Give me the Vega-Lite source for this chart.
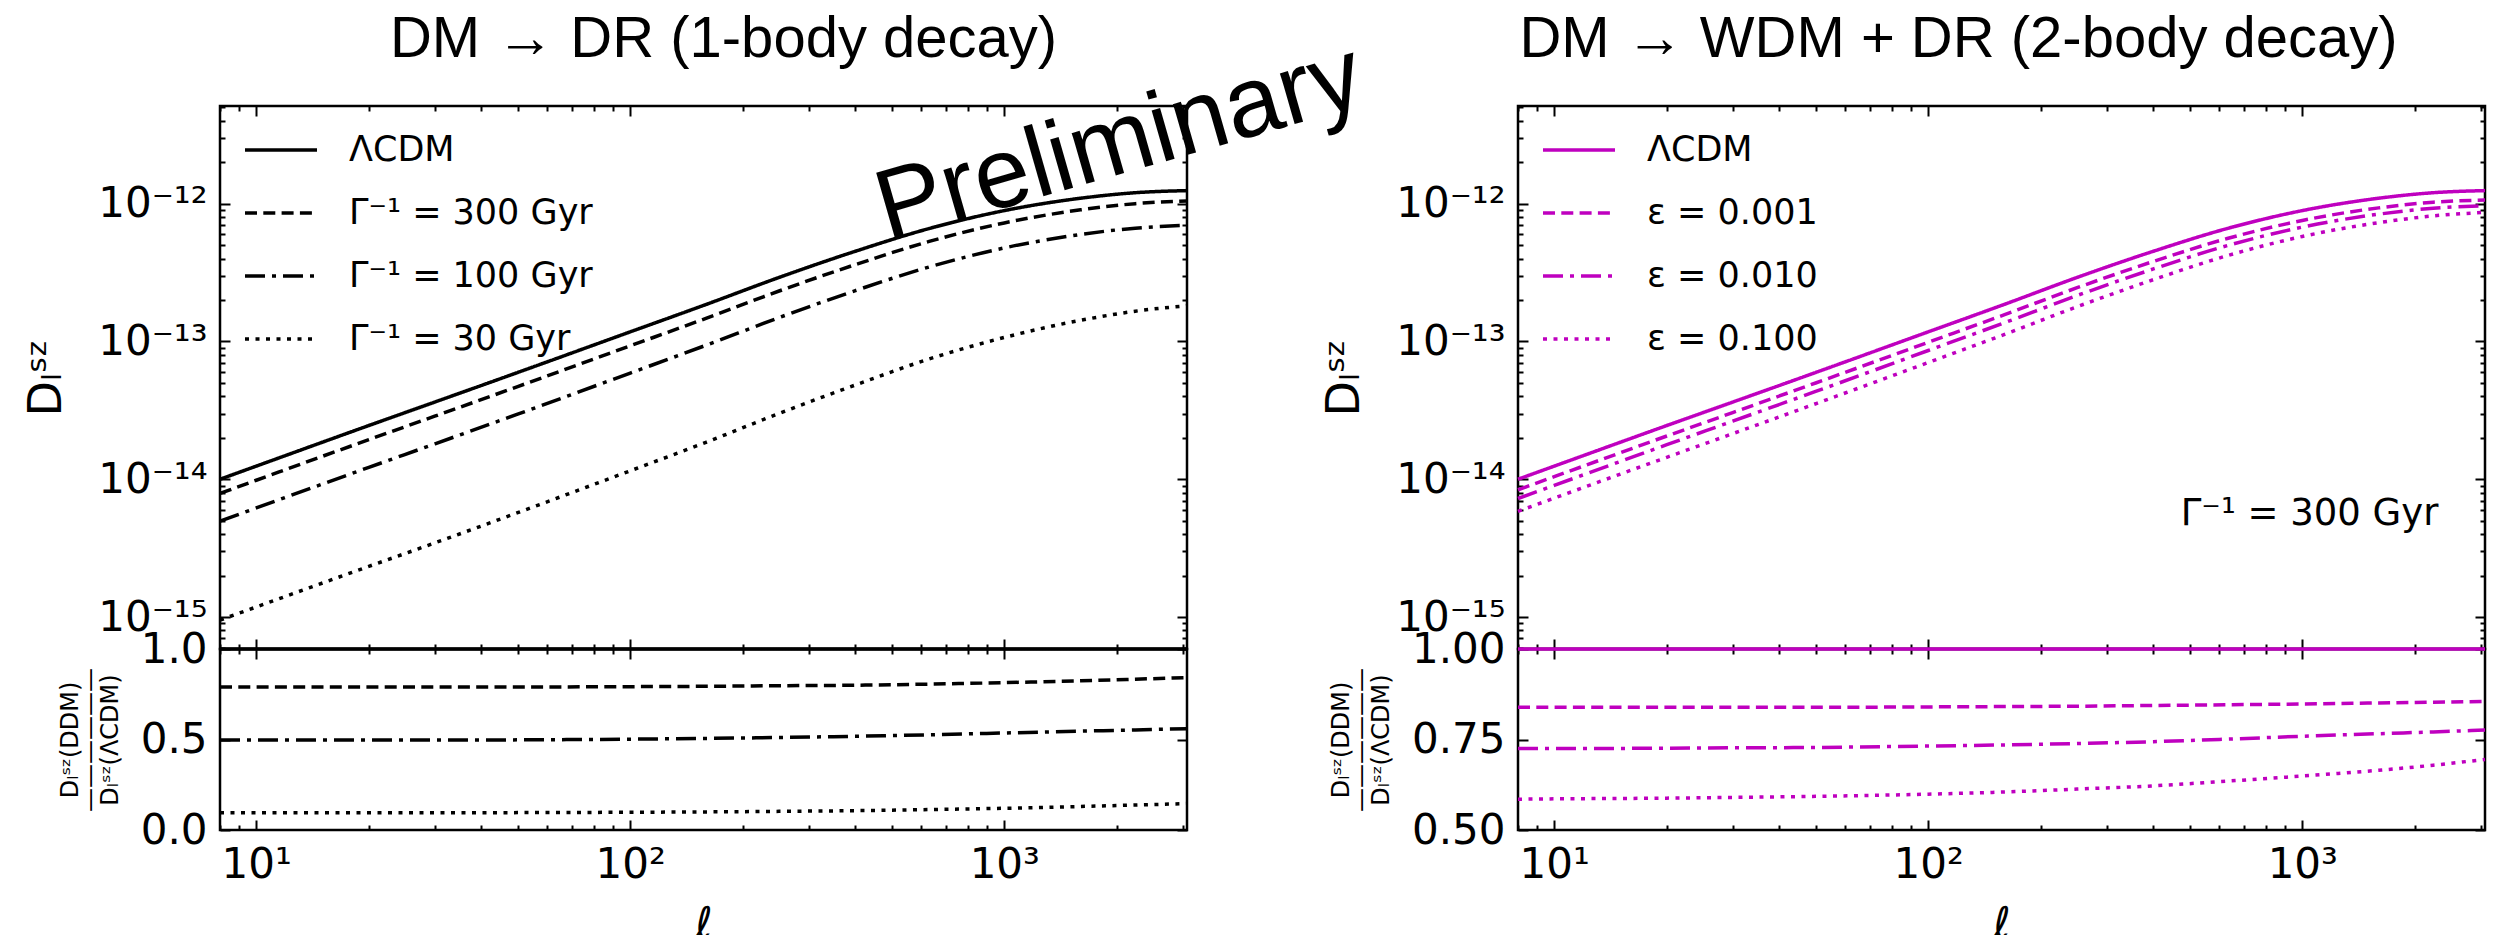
{
  "$schema": "https://vega.github.io/schema/vega-lite/v6.json",
  "background": "white",
  "padding": {"left": 22, "top": 10, "right": 0, "bottom": 0},
  "config": {
    "font": "DejaVu Sans",
    "view": {"stroke": "black", "strokeWidth": 2.5},
    "axis": {"domain": false, "grid": false, "labelFont": "DejaVu Sans", "labelFontSize": 42, "labelColor": "black", "tickColor": "black", "tickWidth": 2, "labelOverlap": false, "labelFlush": false, "labelBound": false, "titleFont": "DejaVu Sans", "titleFontWeight": "normal", "titleColor": "black"},
    "legend": {"labelFont": "DejaVu Sans", "labelColor": "black"}
  },
  "datasets": {
    "left": [
      {"model": "ΛCDM", "l": 8, "D": 1.000e-14, "ratio": 1},
      {"model": "ΛCDM", "l": 10, "D": 1.245e-14, "ratio": 1},
      {"model": "ΛCDM", "l": 20, "D": 2.455e-14, "ratio": 1},
      {"model": "ΛCDM", "l": 30, "D": 3.631e-14, "ratio": 1},
      {"model": "ΛCDM", "l": 50, "D": 5.957e-14, "ratio": 1},
      {"model": "ΛCDM", "l": 100, "D": 1.175e-13, "ratio": 1},
      {"model": "ΛCDM", "l": 160, "D": 1.862e-13, "ratio": 1},
      {"model": "ΛCDM", "l": 250, "D": 2.917e-13, "ratio": 1},
      {"model": "ΛCDM", "l": 400, "D": 4.519e-13, "ratio": 1},
      {"model": "ΛCDM", "l": 630, "D": 6.607e-13, "ratio": 1},
      {"model": "ΛCDM", "l": 1000, "D": 8.913e-13, "ratio": 1},
      {"model": "ΛCDM", "l": 1600, "D": 1.096e-12, "ratio": 1},
      {"model": "ΛCDM", "l": 2240, "D": 1.202e-12, "ratio": 1},
      {"model": "ΛCDM", "l": 3080, "D": 1.245e-12, "ratio": 1},
      {"model": "Γ⁻¹ = 300 Gyr", "l": 8, "D": 7.90e-15, "ratio": 0.79},
      {"model": "Γ⁻¹ = 300 Gyr", "l": 10, "D": 9.836e-15, "ratio": 0.79},
      {"model": "Γ⁻¹ = 300 Gyr", "l": 20, "D": 1.939e-14, "ratio": 0.79},
      {"model": "Γ⁻¹ = 300 Gyr", "l": 30, "D": 2.868e-14, "ratio": 0.79},
      {"model": "Γ⁻¹ = 300 Gyr", "l": 50, "D": 4.706e-14, "ratio": 0.79},
      {"model": "Γ⁻¹ = 300 Gyr", "l": 100, "D": 9.306e-14, "ratio": 0.792},
      {"model": "Γ⁻¹ = 300 Gyr", "l": 160, "D": 1.478e-13, "ratio": 0.794},
      {"model": "Γ⁻¹ = 300 Gyr", "l": 250, "D": 2.325e-13, "ratio": 0.797},
      {"model": "Γ⁻¹ = 300 Gyr", "l": 400, "D": 3.615e-13, "ratio": 0.8},
      {"model": "Γ⁻¹ = 300 Gyr", "l": 630, "D": 5.325e-13, "ratio": 0.806},
      {"model": "Γ⁻¹ = 300 Gyr", "l": 1000, "D": 7.255e-13, "ratio": 0.814},
      {"model": "Γ⁻¹ = 300 Gyr", "l": 1600, "D": 9.031e-13, "ratio": 0.824},
      {"model": "Γ⁻¹ = 300 Gyr", "l": 2240, "D": 1.001e-12, "ratio": 0.833},
      {"model": "Γ⁻¹ = 300 Gyr", "l": 3080, "D": 1.048e-12, "ratio": 0.842},
      {"model": "Γ⁻¹ = 100 Gyr", "l": 8, "D": 4.97e-15, "ratio": 0.497},
      {"model": "Γ⁻¹ = 100 Gyr", "l": 10, "D": 6.188e-15, "ratio": 0.497},
      {"model": "Γ⁻¹ = 100 Gyr", "l": 20, "D": 1.220e-14, "ratio": 0.497},
      {"model": "Γ⁻¹ = 100 Gyr", "l": 30, "D": 1.805e-14, "ratio": 0.497},
      {"model": "Γ⁻¹ = 100 Gyr", "l": 50, "D": 2.967e-14, "ratio": 0.498},
      {"model": "Γ⁻¹ = 100 Gyr", "l": 100, "D": 5.899e-14, "ratio": 0.502},
      {"model": "Γ⁻¹ = 100 Gyr", "l": 160, "D": 9.422e-14, "ratio": 0.506},
      {"model": "Γ⁻¹ = 100 Gyr", "l": 250, "D": 1.491e-13, "ratio": 0.511},
      {"model": "Γ⁻¹ = 100 Gyr", "l": 400, "D": 2.341e-13, "ratio": 0.518},
      {"model": "Γ⁻¹ = 100 Gyr", "l": 630, "D": 3.475e-13, "ratio": 0.526},
      {"model": "Γ⁻¹ = 100 Gyr", "l": 1000, "D": 4.777e-13, "ratio": 0.536},
      {"model": "Γ⁻¹ = 100 Gyr", "l": 1600, "D": 5.984e-13, "ratio": 0.546},
      {"model": "Γ⁻¹ = 100 Gyr", "l": 2240, "D": 6.647e-13, "ratio": 0.553},
      {"model": "Γ⁻¹ = 100 Gyr", "l": 3080, "D": 6.972e-13, "ratio": 0.56},
      {"model": "Γ⁻¹ = 30 Gyr", "l": 8, "D": 9.50e-16, "ratio": 0.095},
      {"model": "Γ⁻¹ = 30 Gyr", "l": 10, "D": 1.183e-15, "ratio": 0.095},
      {"model": "Γ⁻¹ = 30 Gyr", "l": 20, "D": 2.332e-15, "ratio": 0.095},
      {"model": "Γ⁻¹ = 30 Gyr", "l": 30, "D": 3.449e-15, "ratio": 0.095},
      {"model": "Γ⁻¹ = 30 Gyr", "l": 50, "D": 5.719e-15, "ratio": 0.096},
      {"model": "Γ⁻¹ = 30 Gyr", "l": 100, "D": 1.152e-14, "ratio": 0.098},
      {"model": "Γ⁻¹ = 30 Gyr", "l": 160, "D": 1.862e-14, "ratio": 0.1},
      {"model": "Γ⁻¹ = 30 Gyr", "l": 250, "D": 3.005e-14, "ratio": 0.103},
      {"model": "Γ⁻¹ = 30 Gyr", "l": 400, "D": 4.835e-14, "ratio": 0.107},
      {"model": "Γ⁻¹ = 30 Gyr", "l": 630, "D": 7.466e-14, "ratio": 0.113},
      {"model": "Γ⁻¹ = 30 Gyr", "l": 1000, "D": 1.070e-13, "ratio": 0.12},
      {"model": "Γ⁻¹ = 30 Gyr", "l": 1600, "D": 1.425e-13, "ratio": 0.13},
      {"model": "Γ⁻¹ = 30 Gyr", "l": 2240, "D": 1.659e-13, "ratio": 0.138},
      {"model": "Γ⁻¹ = 30 Gyr", "l": 3080, "D": 1.818e-13, "ratio": 0.146}
    ],
    "right": [
      {"model": "ΛCDM", "l": 8, "D": 1.000e-14, "ratio": 1},
      {"model": "ΛCDM", "l": 10, "D": 1.245e-14, "ratio": 1},
      {"model": "ΛCDM", "l": 20, "D": 2.455e-14, "ratio": 1},
      {"model": "ΛCDM", "l": 30, "D": 3.631e-14, "ratio": 1},
      {"model": "ΛCDM", "l": 50, "D": 5.957e-14, "ratio": 1},
      {"model": "ΛCDM", "l": 100, "D": 1.175e-13, "ratio": 1},
      {"model": "ΛCDM", "l": 160, "D": 1.862e-13, "ratio": 1},
      {"model": "ΛCDM", "l": 250, "D": 2.917e-13, "ratio": 1},
      {"model": "ΛCDM", "l": 400, "D": 4.519e-13, "ratio": 1},
      {"model": "ΛCDM", "l": 630, "D": 6.607e-13, "ratio": 1},
      {"model": "ΛCDM", "l": 1000, "D": 8.913e-13, "ratio": 1},
      {"model": "ΛCDM", "l": 1600, "D": 1.096e-12, "ratio": 1},
      {"model": "ΛCDM", "l": 2240, "D": 1.202e-12, "ratio": 1},
      {"model": "ΛCDM", "l": 3080, "D": 1.245e-12, "ratio": 1},
      {"model": "ε = 0.001", "l": 8, "D": 8.39e-15, "ratio": 0.839},
      {"model": "ε = 0.001", "l": 10, "D": 1.0446e-14, "ratio": 0.839},
      {"model": "ε = 0.001", "l": 20, "D": 2.060e-14, "ratio": 0.839},
      {"model": "ε = 0.001", "l": 30, "D": 3.046e-14, "ratio": 0.839},
      {"model": "ε = 0.001", "l": 50, "D": 4.998e-14, "ratio": 0.839},
      {"model": "ε = 0.001", "l": 100, "D": 9.870e-14, "ratio": 0.84},
      {"model": "ε = 0.001", "l": 160, "D": 1.566e-13, "ratio": 0.841},
      {"model": "ε = 0.001", "l": 250, "D": 2.456e-13, "ratio": 0.842},
      {"model": "ε = 0.001", "l": 400, "D": 3.814e-13, "ratio": 0.844},
      {"model": "ε = 0.001", "l": 630, "D": 5.590e-13, "ratio": 0.846},
      {"model": "ε = 0.001", "l": 1000, "D": 7.558e-13, "ratio": 0.848},
      {"model": "ε = 0.001", "l": 1600, "D": 9.327e-13, "ratio": 0.851},
      {"model": "ε = 0.001", "l": 2240, "D": 1.0253e-12, "ratio": 0.853},
      {"model": "ε = 0.001", "l": 3080, "D": 1.0645e-12, "ratio": 0.855},
      {"model": "ε = 0.010", "l": 8, "D": 7.25e-15, "ratio": 0.725},
      {"model": "ε = 0.010", "l": 10, "D": 9.026e-15, "ratio": 0.725},
      {"model": "ε = 0.010", "l": 20, "D": 1.782e-14, "ratio": 0.726},
      {"model": "ε = 0.010", "l": 30, "D": 2.640e-14, "ratio": 0.727},
      {"model": "ε = 0.010", "l": 50, "D": 4.337e-14, "ratio": 0.728},
      {"model": "ε = 0.010", "l": 100, "D": 8.601e-14, "ratio": 0.732},
      {"model": "ε = 0.010", "l": 160, "D": 1.369e-13, "ratio": 0.735},
      {"model": "ε = 0.010", "l": 250, "D": 2.156e-13, "ratio": 0.739},
      {"model": "ε = 0.010", "l": 400, "D": 3.362e-13, "ratio": 0.744},
      {"model": "ε = 0.010", "l": 630, "D": 4.962e-13, "ratio": 0.751},
      {"model": "ε = 0.010", "l": 1000, "D": 6.765e-13, "ratio": 0.759},
      {"model": "ε = 0.010", "l": 1600, "D": 8.395e-13, "ratio": 0.766},
      {"model": "ε = 0.010", "l": 2240, "D": 9.267e-13, "ratio": 0.771},
      {"model": "ε = 0.010", "l": 3080, "D": 9.661e-13, "ratio": 0.776},
      {"model": "ε = 0.100", "l": 8, "D": 5.85e-15, "ratio": 0.585},
      {"model": "ε = 0.100", "l": 10, "D": 7.296e-15, "ratio": 0.586},
      {"model": "ε = 0.100", "l": 20, "D": 1.4435e-14, "ratio": 0.588},
      {"model": "ε = 0.100", "l": 30, "D": 2.142e-14, "ratio": 0.59},
      {"model": "ε = 0.100", "l": 50, "D": 3.533e-14, "ratio": 0.593},
      {"model": "ε = 0.100", "l": 100, "D": 7.038e-14, "ratio": 0.599},
      {"model": "ε = 0.100", "l": 160, "D": 1.1265e-13, "ratio": 0.605},
      {"model": "ε = 0.100", "l": 250, "D": 1.788e-13, "ratio": 0.613},
      {"model": "ε = 0.100", "l": 400, "D": 2.811e-13, "ratio": 0.622},
      {"model": "ε = 0.100", "l": 630, "D": 4.195e-13, "ratio": 0.635},
      {"model": "ε = 0.100", "l": 1000, "D": 5.785e-13, "ratio": 0.649},
      {"model": "ε = 0.100", "l": 1600, "D": 7.288e-13, "ratio": 0.665},
      {"model": "ε = 0.100", "l": 2240, "D": 8.162e-13, "ratio": 0.679},
      {"model": "ε = 0.100", "l": 3080, "D": 8.653e-13, "ratio": 0.695}
    ]
  },
  "concat": [
    {
      "width": 967, "height": 543,
      "title": {"text": "DM → DR (1-body decay)", "font": "Liberation Sans", "fontSize": 58, "fontWeight": "normal", "color": "black", "anchor": "middle", "frame": "group", "offset": 17, "dx": 20},
      "layer": [
        {
          "data": {"name": "left"},
          "mark": {"type": "line", "color": "black", "strokeWidth": 3.5, "interpolate": "monotone"},
          "encoding": {
            "x": {"field": "l", "type": "quantitative", "scale": {"type": "log", "domain": [8, 3080], "nice": false},
              "axis": {"orient": "bottom", "values": [8,9,10,20,30,40,50,60,70,80,90,100,200,300,400,500,600,700,800,900,1000,2000,3000], "labels": false, "title": null,
                "tickSize": {"condition": {"test": "datum.value == 10 || datum.value == 100 || datum.value == 1000", "value": -10}, "value": -5}}},
            "y": {"field": "D", "type": "quantitative", "scale": {"type": "log", "domain": [5.86e-16, 5.12e-12], "nice": false},
              "axis": {"orient": "left", "values": [6e-16,7e-16,8e-16,9e-16,1e-15,2e-15,3e-15,4e-15,5e-15,6e-15,7e-15,8e-15,9e-15,1e-14,2e-14,3e-14,4e-14,5e-14,6e-14,7e-14,8e-14,9e-14,1e-13,2e-13,3e-13,4e-13,5e-13,6e-13,7e-13,8e-13,9e-13,1e-12,2e-12,3e-12,4e-12,5e-12],
                "labelExpr": "datum.value == 1e-15 ? '10⁻¹⁵' : datum.value == 1e-14 ? '10⁻¹⁴' : datum.value == 1e-13 ? '10⁻¹³' : datum.value == 1e-12 ? '10⁻¹²' : ''",
                "labelPadding": 23, "title": "Dₗˢᶻ", "titleFontSize": 46, "titlePadding": 27,
                "tickSize": {"condition": {"test": "datum.value == 1e-15 || datum.value == 1e-14 || datum.value == 1e-13 || datum.value == 1e-12", "value": -10}, "value": -5}}},
            "strokeDash": {"field": "model", "type": "nominal",
              "scale": {"domain": ["ΛCDM", "Γ⁻¹ = 300 Gyr", "Γ⁻¹ = 100 Gyr", "Γ⁻¹ = 30 Gyr"], "range": [[1, 0], [12, 6.3], [20, 7, 4, 7], [4, 6.5]]},
              "legend": {"title": null, "orient": "none", "legendX": 23, "legendY": 6, "symbolType": "stroke", "symbolSize": 5184, "symbolStrokeWidth": 3.5, "symbolStrokeColor": "black", "labelFont": "DejaVu Sans", "labelFontSize": 35, "labelColor": "black", "labelOffset": 30, "rowPadding": 7, "padding": 0, "labelLimit": 0}}
          }
        },
        {
          "data": {"name": "left"},
          "mark": {"type": "point", "opacity": 0},
          "encoding": {
            "x": {"field": "l", "type": "quantitative", "axis": {"orient": "top", "values": [8,9,10,20,30,40,50,60,70,80,90,100,200,300,400,500,600,700,800,900,1000,2000,3000], "labels": false, "title": null,
                "tickSize": {"condition": {"test": "datum.value == 10 || datum.value == 100 || datum.value == 1000", "value": -10}, "value": -5}}},
            "y": {"field": "D", "type": "quantitative", "axis": {"orient": "right", "values": [6e-16,7e-16,8e-16,9e-16,1e-15,2e-15,3e-15,4e-15,5e-15,6e-15,7e-15,8e-15,9e-15,1e-14,2e-14,3e-14,4e-14,5e-14,6e-14,7e-14,8e-14,9e-14,1e-13,2e-13,3e-13,4e-13,5e-13,6e-13,7e-13,8e-13,9e-13,1e-12,2e-12,3e-12,4e-12,5e-12], "labels": false, "title": null,
                "tickSize": {"condition": {"test": "datum.value == 1e-15 || datum.value == 1e-14 || datum.value == 1e-13 || datum.value == 1e-12", "value": -10}, "value": -5}}}
          }
        }
      ],
      "resolve": {"axis": {"x": "independent", "y": "independent"}}
    },
    {
      "width": 967, "height": 543,
      "title": {"text": "DM → WDM + DR (2-body decay)", "font": "Liberation Sans", "fontSize": 58, "fontWeight": "normal", "color": "black", "anchor": "middle", "frame": "group", "offset": 17, "dx": -43},
      "layer": [
        {
          "data": {"name": "right"},
          "mark": {"type": "line", "color": "#bf00bf", "strokeWidth": 3.5, "interpolate": "monotone"},
          "encoding": {
            "x": {"field": "l", "type": "quantitative", "scale": {"type": "log", "domain": [8, 3080], "nice": false},
              "axis": {"orient": "bottom", "values": [8,9,10,20,30,40,50,60,70,80,90,100,200,300,400,500,600,700,800,900,1000,2000,3000], "labels": false, "title": null,
                "tickSize": {"condition": {"test": "datum.value == 10 || datum.value == 100 || datum.value == 1000", "value": -10}, "value": -5}}},
            "y": {"field": "D", "type": "quantitative", "scale": {"type": "log", "domain": [5.86e-16, 5.12e-12], "nice": false},
              "axis": {"orient": "left", "values": [6e-16,7e-16,8e-16,9e-16,1e-15,2e-15,3e-15,4e-15,5e-15,6e-15,7e-15,8e-15,9e-15,1e-14,2e-14,3e-14,4e-14,5e-14,6e-14,7e-14,8e-14,9e-14,1e-13,2e-13,3e-13,4e-13,5e-13,6e-13,7e-13,8e-13,9e-13,1e-12,2e-12,3e-12,4e-12,5e-12],
                "labelExpr": "datum.value == 1e-15 ? '10⁻¹⁵' : datum.value == 1e-14 ? '10⁻¹⁴' : datum.value == 1e-13 ? '10⁻¹³' : datum.value == 1e-12 ? '10⁻¹²' : ''",
                "labelPadding": 23, "title": "Dₗˢᶻ", "titleFontSize": 46, "titlePadding": 27,
                "tickSize": {"condition": {"test": "datum.value == 1e-15 || datum.value == 1e-14 || datum.value == 1e-13 || datum.value == 1e-12", "value": -10}, "value": -5}}},
            "strokeDash": {"field": "model", "type": "nominal",
              "scale": {"domain": ["ΛCDM", "ε = 0.001", "ε = 0.010", "ε = 0.100"], "range": [[1, 0], [12, 6.3], [20, 7, 4, 7], [4, 6.5]]},
              "legend": {"title": null, "orient": "none", "legendX": 23, "legendY": 6, "symbolType": "stroke", "symbolSize": 5184, "symbolStrokeWidth": 3.5, "symbolStrokeColor": "#bf00bf", "labelFont": "DejaVu Sans", "labelFontSize": 35, "labelColor": "black", "labelOffset": 30, "rowPadding": 7, "padding": 0, "labelLimit": 0}}
          }
        },
        {
          "data": {"name": "right"},
          "mark": {"type": "point", "opacity": 0},
          "encoding": {
            "x": {"field": "l", "type": "quantitative", "axis": {"orient": "top", "values": [8,9,10,20,30,40,50,60,70,80,90,100,200,300,400,500,600,700,800,900,1000,2000,3000], "labels": false, "title": null,
                "tickSize": {"condition": {"test": "datum.value == 10 || datum.value == 100 || datum.value == 1000", "value": -10}, "value": -5}}},
            "y": {"field": "D", "type": "quantitative", "axis": {"orient": "right", "values": [6e-16,7e-16,8e-16,9e-16,1e-15,2e-15,3e-15,4e-15,5e-15,6e-15,7e-15,8e-15,9e-15,1e-14,2e-14,3e-14,4e-14,5e-14,6e-14,7e-14,8e-14,9e-14,1e-13,2e-13,3e-13,4e-13,5e-13,6e-13,7e-13,8e-13,9e-13,1e-12,2e-12,3e-12,4e-12,5e-12], "labels": false, "title": null,
                "tickSize": {"condition": {"test": "datum.value == 1e-15 || datum.value == 1e-14 || datum.value == 1e-13 || datum.value == 1e-12", "value": -10}, "value": -5}}}
          }
        },
        {
          "data": {"values": [{"label": "Γ⁻¹ = 300 Gyr"}]},
          "mark": {"type": "text", "font": "DejaVu Sans", "fontSize": 37, "align": "right", "baseline": "alphabetic", "color": "black"},
          "encoding": {
            "x": {"datum": 2312, "type": "quantitative", "axis": null},
            "y": {"datum": 4.68e-15, "type": "quantitative", "axis": null},
            "text": {"field": "label"}
          }
        }
      ],
      "resolve": {"axis": {"x": "independent", "y": "independent"}}
    },
    {
      "width": 967, "height": 181,
      "layer": [
        {
          "data": {"name": "left"},
          "mark": {"type": "line", "color": "black", "strokeWidth": 3.5, "interpolate": "monotone"},
          "encoding": {
            "x": {"field": "l", "type": "quantitative", "scale": {"type": "log", "domain": [8, 3080], "nice": false},
              "axis": {"orient": "bottom", "values": [8,9,10,20,30,40,50,60,70,80,90,100,200,300,400,500,600,700,800,900,1000,2000,3000],
                "labelExpr": "datum.value == 10 ? '10¹' : datum.value == 100 ? '10²' : datum.value == 1000 ? '10³' : ''",
                "labelBaseline": "top", "labelPadding": 24,
                "title": "ℓ", "titleFontSize": 42, "titleFontStyle": "italic", "titlePadding": 13,
                "tickSize": {"condition": {"test": "datum.value == 10 || datum.value == 100 || datum.value == 1000", "value": -10}, "value": -5}}},
            "y": {"field": "ratio", "type": "quantitative", "scale": {"domain": [0, 1], "nice": false, "zero": false},
              "axis": {"orient": "left", "values": [0, 0.5, 1], "format": ".1f", "labelPadding": 23, "tickSize": -10,
                "title": ["Dₗˢᶻ(DDM)", "——————", "Dₗˢᶻ(ΛCDM)"], "titleFontSize": 24, "titleLineHeight": 20, "titlePadding": 18}},
            "strokeDash": {"field": "model", "type": "nominal",
              "scale": {"domain": ["ΛCDM", "Γ⁻¹ = 300 Gyr", "Γ⁻¹ = 100 Gyr", "Γ⁻¹ = 30 Gyr"], "range": [[1, 0], [12, 6.3], [20, 7, 4, 7], [4, 6.5]]},
              "legend": null}
          }
        },
        {
          "data": {"name": "left"},
          "mark": {"type": "point", "opacity": 0},
          "encoding": {
            "x": {"field": "l", "type": "quantitative", "axis": {"orient": "top", "values": [8,9,10,20,30,40,50,60,70,80,90,100,200,300,400,500,600,700,800,900,1000,2000,3000], "labels": false, "title": null,
                "tickSize": {"condition": {"test": "datum.value == 10 || datum.value == 100 || datum.value == 1000", "value": -10}, "value": -5}}},
            "y": {"field": "ratio", "type": "quantitative", "axis": {"orient": "right", "values": [0, 0.5, 1], "labels": false, "title": null, "tickSize": -10}}
          }
        },
        {
          "data": {"values": [{"label": "Preliminary"}]},
          "mark": {"type": "text", "font": "Liberation Sans", "fontSize": 100, "angle": -16, "align": "center", "baseline": "alphabetic", "color": "black"},
          "encoding": {
            "x": {"datum": 2138, "type": "quantitative", "axis": null},
            "y": {"datum": 3.635, "type": "quantitative", "axis": null},
            "text": {"field": "label"}
          }
        }
      ],
      "resolve": {"axis": {"x": "independent", "y": "independent"}}
    },
    {
      "width": 967, "height": 181,
      "layer": [
        {
          "data": {"name": "right"},
          "mark": {"type": "line", "color": "#bf00bf", "strokeWidth": 3.5, "interpolate": "monotone"},
          "encoding": {
            "x": {"field": "l", "type": "quantitative", "scale": {"type": "log", "domain": [8, 3080], "nice": false},
              "axis": {"orient": "bottom", "values": [8,9,10,20,30,40,50,60,70,80,90,100,200,300,400,500,600,700,800,900,1000,2000,3000],
                "labelExpr": "datum.value == 10 ? '10¹' : datum.value == 100 ? '10²' : datum.value == 1000 ? '10³' : ''",
                "labelBaseline": "top", "labelPadding": 24,
                "title": "ℓ", "titleFontSize": 42, "titleFontStyle": "italic", "titlePadding": 13,
                "tickSize": {"condition": {"test": "datum.value == 10 || datum.value == 100 || datum.value == 1000", "value": -10}, "value": -5}}},
            "y": {"field": "ratio", "type": "quantitative", "scale": {"domain": [0.5, 1], "nice": false, "zero": false},
              "axis": {"orient": "left", "values": [0.5, 0.75, 1], "format": ".2f", "labelPadding": 23, "tickSize": -10,
                "title": ["Dₗˢᶻ(DDM)", "——————", "Dₗˢᶻ(ΛCDM)"], "titleFontSize": 24, "titleLineHeight": 20, "titlePadding": 18}},
            "strokeDash": {"field": "model", "type": "nominal",
              "scale": {"domain": ["ΛCDM", "ε = 0.001", "ε = 0.010", "ε = 0.100"], "range": [[1, 0], [12, 6.3], [20, 7, 4, 7], [4, 6.5]]},
              "legend": null}
          }
        },
        {
          "data": {"name": "right"},
          "mark": {"type": "point", "opacity": 0},
          "encoding": {
            "x": {"field": "l", "type": "quantitative", "axis": {"orient": "top", "values": [8,9,10,20,30,40,50,60,70,80,90,100,200,300,400,500,600,700,800,900,1000,2000,3000], "labels": false, "title": null,
                "tickSize": {"condition": {"test": "datum.value == 10 || datum.value == 100 || datum.value == 1000", "value": -10}, "value": -5}}},
            "y": {"field": "ratio", "type": "quantitative", "axis": {"orient": "right", "values": [0.5, 0.75, 1], "labels": false, "title": null, "tickSize": -10}}
          }
        }
      ],
      "resolve": {"axis": {"x": "independent", "y": "independent"}}
    }
  ],
  "columns": 2,
  "spacing": {"row": 0, "column": 331},
  "bounds": "flush",
  "resolve": {"scale": {"x": "independent", "y": "independent", "strokeDash": "independent"}, "legend": {"strokeDash": "independent"}}
}
